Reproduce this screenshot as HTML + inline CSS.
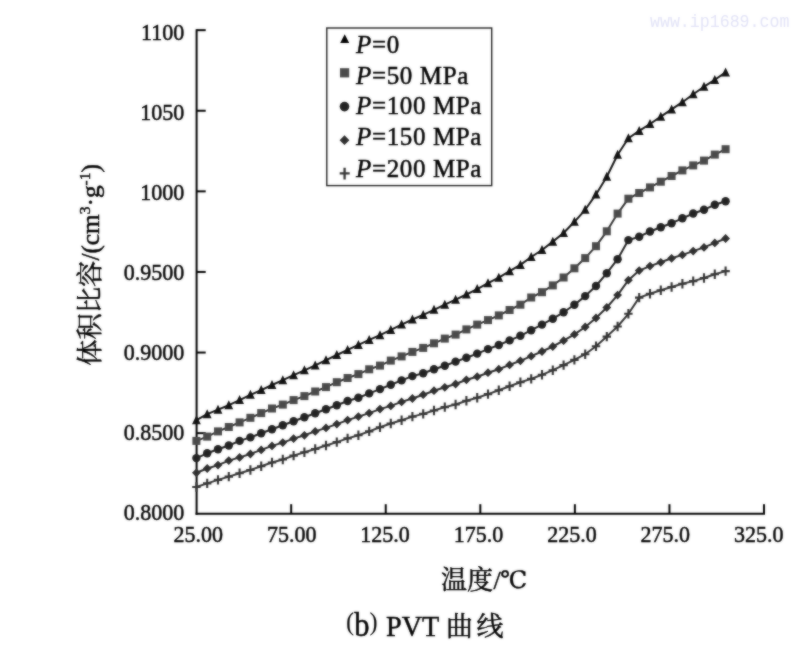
<!DOCTYPE html>
<html><head><meta charset="utf-8"><style>
html,body{margin:0;padding:0;background:#fff;}
body{width:800px;height:652px;overflow:hidden;}
svg{display:block;}
.num{font-family:"Liberation Serif",serif;font-size:22px;fill:#000;}
.leg{font-family:"Liberation Serif",serif;font-size:25px;fill:#000;letter-spacing:0.63px;}
.cjk{font-family:"Liberation Serif","Noto Serif CJK SC",serif;fill:#000;}
.wm{font-family:"Liberation Mono",monospace;font-size:16.6px;fill:#e2e3f7;}
</style></head><body>
<svg width="800" height="652" viewBox="0 0 800 652">
<defs><filter id="bl" x="0" y="0" width="100%" height="100%" color-interpolation-filters="sRGB"><feGaussianBlur in="SourceGraphic" stdDeviation="0.8" result="b"/><feComposite in="SourceGraphic" in2="b" operator="arithmetic" k1="0" k2="0.45" k3="0.55" k4="0"/></filter></defs>
<g filter="url(#bl)">
<rect width="800" height="652" fill="#fff"/>
<style>text{stroke:#000;stroke-width:0.45px;} text.wm{stroke:none;}</style>
<text transform="translate(650,26.6) scale(1,1.15)" class="wm">www.ip1689.com</text>
<line x1="196.6" y1="29.15" x2="196.6" y2="514.75" stroke="#000" stroke-width="2.0"/>
<line x1="195.6" y1="513.75" x2="765" y2="513.75" stroke="#000" stroke-width="2.0"/>
<line x1="196.6" y1="30.15" x2="205.7" y2="30.15" stroke="#000" stroke-width="2.0"/>
<line x1="196.6" y1="110.75" x2="205.7" y2="110.75" stroke="#000" stroke-width="2.0"/>
<line x1="196.6" y1="191.35" x2="205.7" y2="191.35" stroke="#000" stroke-width="2.0"/>
<line x1="196.6" y1="271.95" x2="205.7" y2="271.95" stroke="#000" stroke-width="2.0"/>
<line x1="196.6" y1="352.55" x2="205.7" y2="352.55" stroke="#000" stroke-width="2.0"/>
<line x1="196.6" y1="433.15" x2="205.7" y2="433.15" stroke="#000" stroke-width="2.0"/>
<line x1="291.17" y1="513.75" x2="291.17" y2="504.2" stroke="#000" stroke-width="2.0"/>
<line x1="385.74" y1="513.75" x2="385.74" y2="504.2" stroke="#000" stroke-width="2.0"/>
<line x1="480.31" y1="513.75" x2="480.31" y2="504.2" stroke="#000" stroke-width="2.0"/>
<line x1="574.88" y1="513.75" x2="574.88" y2="504.2" stroke="#000" stroke-width="2.0"/>
<line x1="669.45" y1="513.75" x2="669.45" y2="504.2" stroke="#000" stroke-width="2.0"/>
<line x1="764.02" y1="513.75" x2="764.02" y2="504.2" stroke="#000" stroke-width="2.0"/>
<text transform="translate(184.2,39.50) scale(1,1.05)" text-anchor="end" class="num">1100</text>
<text transform="translate(184.2,119.50) scale(1,1.05)" text-anchor="end" class="num">1050</text>
<text transform="translate(184.2,199.50) scale(1,1.05)" text-anchor="end" class="num">1000</text>
<text transform="translate(184.2,279.50) scale(1,1.05)" text-anchor="end" class="num">0.9500</text>
<text transform="translate(184.2,359.50) scale(1,1.05)" text-anchor="end" class="num">0.9000</text>
<text transform="translate(184.2,439.50) scale(1,1.05)" text-anchor="end" class="num">0.8500</text>
<text transform="translate(184.2,519.50) scale(1,1.05)" text-anchor="end" class="num">0.8000</text>
<text transform="translate(198.3,541.8) scale(1,1.05)" text-anchor="middle" class="num">25.00</text>
<text transform="translate(291.7,541.8) scale(1,1.05)" text-anchor="middle" class="num">75.00</text>
<text transform="translate(385.1,541.8) scale(1,1.05)" text-anchor="middle" class="num">125.0</text>
<text transform="translate(478.5,541.8) scale(1,1.05)" text-anchor="middle" class="num">175.0</text>
<text transform="translate(571.9,541.8) scale(1,1.05)" text-anchor="middle" class="num">225.0</text>
<text transform="translate(665.3,541.8) scale(1,1.05)" text-anchor="middle" class="num">275.0</text>
<text transform="translate(758.7,541.8) scale(1,1.05)" text-anchor="middle" class="num">325.0</text>
<polyline points="196.4,420.1 207.2,414.1 218.0,409.6 228.8,405.2 239.6,400.1 250.4,394.8 261.2,390.1 272.0,385.0 282.8,380.2 293.6,375.2 304.4,370.3 315.2,365.4 326.0,360.2 336.8,355.0 347.6,349.9 358.4,344.9 369.2,339.9 380.0,335.2 390.8,329.9 401.6,324.6 412.4,319.5 423.2,314.9 434.0,309.8 444.8,304.6 455.6,299.7 466.4,294.5 477.2,289.1 488.0,283.2 498.8,277.7 509.6,271.2 520.4,264.9 531.2,257.0 542.0,250.0 552.8,241.6 563.6,233.0 574.4,221.8 585.2,209.8 596.0,194.4 606.8,176.8 617.6,154.7 628.4,138.3 639.2,130.9 650.0,124.0 660.8,116.7 671.6,109.4 682.4,102.2 693.2,94.3 704.0,86.7 714.8,79.8 725.6,72.4" fill="none" stroke="#151515" stroke-width="2.0" stroke-linejoin="round"/>
<path d="M196.4,415.2L200.8,424.2L192.0,424.2Z" fill="#111"/>
<path d="M207.2,409.2L211.6,418.2L202.8,418.2Z" fill="#111"/>
<path d="M218.0,404.7L222.4,413.7L213.6,413.7Z" fill="#111"/>
<path d="M228.8,400.2L233.2,409.2L224.4,409.2Z" fill="#111"/>
<path d="M239.6,395.1L244.0,404.1L235.2,404.1Z" fill="#111"/>
<path d="M250.4,389.8L254.8,398.8L246.0,398.8Z" fill="#111"/>
<path d="M261.2,385.1L265.6,394.1L256.8,394.1Z" fill="#111"/>
<path d="M272.0,380.0L276.4,389.0L267.6,389.0Z" fill="#111"/>
<path d="M282.8,375.2L287.2,384.2L278.4,384.2Z" fill="#111"/>
<path d="M293.6,370.2L298.0,379.2L289.2,379.2Z" fill="#111"/>
<path d="M304.4,365.3L308.8,374.3L300.0,374.3Z" fill="#111"/>
<path d="M315.2,360.5L319.6,369.5L310.8,369.5Z" fill="#111"/>
<path d="M326.0,355.3L330.4,364.3L321.6,364.3Z" fill="#111"/>
<path d="M336.8,350.1L341.2,359.1L332.4,359.1Z" fill="#111"/>
<path d="M347.6,345.0L352.0,354.0L343.2,354.0Z" fill="#111"/>
<path d="M358.4,340.0L362.8,349.0L354.0,349.0Z" fill="#111"/>
<path d="M369.2,334.9L373.6,343.9L364.8,343.9Z" fill="#111"/>
<path d="M380.0,330.2L384.4,339.2L375.6,339.2Z" fill="#111"/>
<path d="M390.8,324.9L395.2,333.9L386.4,333.9Z" fill="#111"/>
<path d="M401.6,319.6L406.0,328.6L397.2,328.6Z" fill="#111"/>
<path d="M412.4,314.6L416.8,323.6L408.0,323.6Z" fill="#111"/>
<path d="M423.2,309.9L427.6,318.9L418.8,318.9Z" fill="#111"/>
<path d="M434.0,304.8L438.4,313.8L429.6,313.8Z" fill="#111"/>
<path d="M444.8,299.7L449.2,308.7L440.4,308.7Z" fill="#111"/>
<path d="M455.6,294.8L460.0,303.8L451.2,303.8Z" fill="#111"/>
<path d="M466.4,289.5L470.8,298.5L462.0,298.5Z" fill="#111"/>
<path d="M477.2,284.1L481.6,293.1L472.8,293.1Z" fill="#111"/>
<path d="M488.0,278.3L492.4,287.3L483.6,287.3Z" fill="#111"/>
<path d="M498.8,272.8L503.2,281.8L494.4,281.8Z" fill="#111"/>
<path d="M509.6,266.3L514.0,275.3L505.2,275.3Z" fill="#111"/>
<path d="M520.4,260.0L524.8,269.0L516.0,269.0Z" fill="#111"/>
<path d="M531.2,252.0L535.6,261.0L526.8,261.0Z" fill="#111"/>
<path d="M542.0,245.1L546.4,254.1L537.6,254.1Z" fill="#111"/>
<path d="M552.8,236.7L557.2,245.7L548.4,245.7Z" fill="#111"/>
<path d="M563.6,228.0L568.0,237.0L559.2,237.0Z" fill="#111"/>
<path d="M574.4,216.8L578.8,225.8L570.0,225.8Z" fill="#111"/>
<path d="M585.2,204.8L589.6,213.8L580.8,213.8Z" fill="#111"/>
<path d="M596.0,189.5L600.4,198.5L591.6,198.5Z" fill="#111"/>
<path d="M606.8,171.8L611.2,180.8L602.4,180.8Z" fill="#111"/>
<path d="M617.6,149.8L622.0,158.8L613.2,158.8Z" fill="#111"/>
<path d="M628.4,133.3L632.8,142.3L624.0,142.3Z" fill="#111"/>
<path d="M639.2,125.9L643.6,134.9L634.8,134.9Z" fill="#111"/>
<path d="M650.0,119.0L654.4,128.0L645.6,128.0Z" fill="#111"/>
<path d="M660.8,111.7L665.2,120.7L656.4,120.7Z" fill="#111"/>
<path d="M671.6,104.5L676.0,113.5L667.2,113.5Z" fill="#111"/>
<path d="M682.4,97.3L686.8,106.3L678.0,106.3Z" fill="#111"/>
<path d="M693.2,89.3L697.6,98.3L688.8,98.3Z" fill="#111"/>
<path d="M704.0,81.8L708.4,90.8L699.6,90.8Z" fill="#111"/>
<path d="M714.8,74.9L719.2,83.9L710.4,83.9Z" fill="#111"/>
<path d="M725.6,67.4L730.0,76.4L721.2,76.4Z" fill="#111"/>
<polyline points="196.4,440.9 207.2,436.6 218.0,431.4 228.8,427.0 239.6,422.4 250.4,417.8 261.2,413.1 272.0,408.5 282.8,404.6 293.6,400.1 304.4,396.1 315.2,391.5 326.0,387.1 336.8,382.2 347.6,378.0 358.4,374.1 369.2,369.3 380.0,365.6 390.8,360.6 401.6,356.4 412.4,351.9 423.2,347.9 434.0,343.3 444.8,338.6 455.6,334.6 466.4,329.4 477.2,324.6 488.0,320.1 498.8,315.4 509.6,310.0 520.4,304.7 531.2,297.5 542.0,292.2 552.8,285.4 563.6,277.5 574.4,268.3 585.2,258.1 596.0,246.2 606.8,231.3 617.6,213.6 628.4,198.7 639.2,193.0 650.0,187.4 660.8,181.7 671.6,176.0 682.4,170.4 693.2,165.4 704.0,160.6 714.8,154.6 725.6,149.2" fill="none" stroke="#333" stroke-width="2.0" stroke-linejoin="round"/>
<rect x="192.4" y="436.9" width="8.0" height="8.0" fill="#4a4a4a"/>
<rect x="203.2" y="432.6" width="8.0" height="8.0" fill="#4a4a4a"/>
<rect x="214.0" y="427.4" width="8.0" height="8.0" fill="#4a4a4a"/>
<rect x="224.8" y="423.0" width="8.0" height="8.0" fill="#4a4a4a"/>
<rect x="235.6" y="418.4" width="8.0" height="8.0" fill="#4a4a4a"/>
<rect x="246.4" y="413.8" width="8.0" height="8.0" fill="#4a4a4a"/>
<rect x="257.2" y="409.1" width="8.0" height="8.0" fill="#4a4a4a"/>
<rect x="268.0" y="404.5" width="8.0" height="8.0" fill="#4a4a4a"/>
<rect x="278.8" y="400.6" width="8.0" height="8.0" fill="#4a4a4a"/>
<rect x="289.6" y="396.1" width="8.0" height="8.0" fill="#4a4a4a"/>
<rect x="300.4" y="392.1" width="8.0" height="8.0" fill="#4a4a4a"/>
<rect x="311.2" y="387.5" width="8.0" height="8.0" fill="#4a4a4a"/>
<rect x="322.0" y="383.1" width="8.0" height="8.0" fill="#4a4a4a"/>
<rect x="332.8" y="378.2" width="8.0" height="8.0" fill="#4a4a4a"/>
<rect x="343.6" y="374.0" width="8.0" height="8.0" fill="#4a4a4a"/>
<rect x="354.4" y="370.1" width="8.0" height="8.0" fill="#4a4a4a"/>
<rect x="365.2" y="365.3" width="8.0" height="8.0" fill="#4a4a4a"/>
<rect x="376.0" y="361.6" width="8.0" height="8.0" fill="#4a4a4a"/>
<rect x="386.8" y="356.6" width="8.0" height="8.0" fill="#4a4a4a"/>
<rect x="397.6" y="352.4" width="8.0" height="8.0" fill="#4a4a4a"/>
<rect x="408.4" y="347.9" width="8.0" height="8.0" fill="#4a4a4a"/>
<rect x="419.2" y="343.9" width="8.0" height="8.0" fill="#4a4a4a"/>
<rect x="430.0" y="339.3" width="8.0" height="8.0" fill="#4a4a4a"/>
<rect x="440.8" y="334.6" width="8.0" height="8.0" fill="#4a4a4a"/>
<rect x="451.6" y="330.6" width="8.0" height="8.0" fill="#4a4a4a"/>
<rect x="462.4" y="325.4" width="8.0" height="8.0" fill="#4a4a4a"/>
<rect x="473.2" y="320.6" width="8.0" height="8.0" fill="#4a4a4a"/>
<rect x="484.0" y="316.1" width="8.0" height="8.0" fill="#4a4a4a"/>
<rect x="494.8" y="311.4" width="8.0" height="8.0" fill="#4a4a4a"/>
<rect x="505.6" y="306.0" width="8.0" height="8.0" fill="#4a4a4a"/>
<rect x="516.4" y="300.7" width="8.0" height="8.0" fill="#4a4a4a"/>
<rect x="527.2" y="293.5" width="8.0" height="8.0" fill="#4a4a4a"/>
<rect x="538.0" y="288.2" width="8.0" height="8.0" fill="#4a4a4a"/>
<rect x="548.8" y="281.4" width="8.0" height="8.0" fill="#4a4a4a"/>
<rect x="559.6" y="273.5" width="8.0" height="8.0" fill="#4a4a4a"/>
<rect x="570.4" y="264.3" width="8.0" height="8.0" fill="#4a4a4a"/>
<rect x="581.2" y="254.1" width="8.0" height="8.0" fill="#4a4a4a"/>
<rect x="592.0" y="242.2" width="8.0" height="8.0" fill="#4a4a4a"/>
<rect x="602.8" y="227.3" width="8.0" height="8.0" fill="#4a4a4a"/>
<rect x="613.6" y="209.6" width="8.0" height="8.0" fill="#4a4a4a"/>
<rect x="624.4" y="194.7" width="8.0" height="8.0" fill="#4a4a4a"/>
<rect x="635.2" y="189.0" width="8.0" height="8.0" fill="#4a4a4a"/>
<rect x="646.0" y="183.4" width="8.0" height="8.0" fill="#4a4a4a"/>
<rect x="656.8" y="177.7" width="8.0" height="8.0" fill="#4a4a4a"/>
<rect x="667.6" y="172.0" width="8.0" height="8.0" fill="#4a4a4a"/>
<rect x="678.4" y="166.4" width="8.0" height="8.0" fill="#4a4a4a"/>
<rect x="689.2" y="161.4" width="8.0" height="8.0" fill="#4a4a4a"/>
<rect x="700.0" y="156.6" width="8.0" height="8.0" fill="#4a4a4a"/>
<rect x="710.8" y="150.6" width="8.0" height="8.0" fill="#4a4a4a"/>
<rect x="721.6" y="145.2" width="8.0" height="8.0" fill="#4a4a4a"/>
<polyline points="196.4,458.1 207.2,453.3 218.0,449.3 228.8,445.5 239.6,440.9 250.4,437.4 261.2,433.2 272.0,429.2 282.8,425.3 293.6,421.3 304.4,417.2 315.2,413.3 326.0,409.2 336.8,405.2 347.6,401.0 358.4,397.8 369.2,393.4 380.0,389.1 390.8,384.8 401.6,380.4 412.4,376.1 423.2,373.2 434.0,369.3 444.8,365.7 455.6,361.6 466.4,357.8 477.2,353.6 488.0,349.1 498.8,345.0 509.6,340.4 520.4,335.8 531.2,330.2 542.0,324.6 552.8,318.7 563.6,312.3 574.4,304.7 585.2,296.1 596.0,286.0 606.8,273.2 617.6,259.2 628.4,240.1 639.2,236.7 650.0,231.5 660.8,227.3 671.6,223.2 682.4,218.3 693.2,213.5 704.0,209.7 714.8,204.8 725.6,201.2" fill="none" stroke="#222" stroke-width="2.0" stroke-linejoin="round"/>
<circle cx="196.4" cy="458.1" r="4.2" fill="#222"/>
<circle cx="207.2" cy="453.3" r="4.2" fill="#222"/>
<circle cx="218.0" cy="449.3" r="4.2" fill="#222"/>
<circle cx="228.8" cy="445.5" r="4.2" fill="#222"/>
<circle cx="239.6" cy="440.9" r="4.2" fill="#222"/>
<circle cx="250.4" cy="437.4" r="4.2" fill="#222"/>
<circle cx="261.2" cy="433.2" r="4.2" fill="#222"/>
<circle cx="272.0" cy="429.2" r="4.2" fill="#222"/>
<circle cx="282.8" cy="425.3" r="4.2" fill="#222"/>
<circle cx="293.6" cy="421.3" r="4.2" fill="#222"/>
<circle cx="304.4" cy="417.2" r="4.2" fill="#222"/>
<circle cx="315.2" cy="413.3" r="4.2" fill="#222"/>
<circle cx="326.0" cy="409.2" r="4.2" fill="#222"/>
<circle cx="336.8" cy="405.2" r="4.2" fill="#222"/>
<circle cx="347.6" cy="401.0" r="4.2" fill="#222"/>
<circle cx="358.4" cy="397.8" r="4.2" fill="#222"/>
<circle cx="369.2" cy="393.4" r="4.2" fill="#222"/>
<circle cx="380.0" cy="389.1" r="4.2" fill="#222"/>
<circle cx="390.8" cy="384.8" r="4.2" fill="#222"/>
<circle cx="401.6" cy="380.4" r="4.2" fill="#222"/>
<circle cx="412.4" cy="376.1" r="4.2" fill="#222"/>
<circle cx="423.2" cy="373.2" r="4.2" fill="#222"/>
<circle cx="434.0" cy="369.3" r="4.2" fill="#222"/>
<circle cx="444.8" cy="365.7" r="4.2" fill="#222"/>
<circle cx="455.6" cy="361.6" r="4.2" fill="#222"/>
<circle cx="466.4" cy="357.8" r="4.2" fill="#222"/>
<circle cx="477.2" cy="353.6" r="4.2" fill="#222"/>
<circle cx="488.0" cy="349.1" r="4.2" fill="#222"/>
<circle cx="498.8" cy="345.0" r="4.2" fill="#222"/>
<circle cx="509.6" cy="340.4" r="4.2" fill="#222"/>
<circle cx="520.4" cy="335.8" r="4.2" fill="#222"/>
<circle cx="531.2" cy="330.2" r="4.2" fill="#222"/>
<circle cx="542.0" cy="324.6" r="4.2" fill="#222"/>
<circle cx="552.8" cy="318.7" r="4.2" fill="#222"/>
<circle cx="563.6" cy="312.3" r="4.2" fill="#222"/>
<circle cx="574.4" cy="304.7" r="4.2" fill="#222"/>
<circle cx="585.2" cy="296.1" r="4.2" fill="#222"/>
<circle cx="596.0" cy="286.0" r="4.2" fill="#222"/>
<circle cx="606.8" cy="273.2" r="4.2" fill="#222"/>
<circle cx="617.6" cy="259.2" r="4.2" fill="#222"/>
<circle cx="628.4" cy="240.1" r="4.2" fill="#222"/>
<circle cx="639.2" cy="236.7" r="4.2" fill="#222"/>
<circle cx="650.0" cy="231.5" r="4.2" fill="#222"/>
<circle cx="660.8" cy="227.3" r="4.2" fill="#222"/>
<circle cx="671.6" cy="223.2" r="4.2" fill="#222"/>
<circle cx="682.4" cy="218.3" r="4.2" fill="#222"/>
<circle cx="693.2" cy="213.5" r="4.2" fill="#222"/>
<circle cx="704.0" cy="209.7" r="4.2" fill="#222"/>
<circle cx="714.8" cy="204.8" r="4.2" fill="#222"/>
<circle cx="725.6" cy="201.2" r="4.2" fill="#222"/>
<polyline points="196.4,472.8 207.2,468.5 218.0,465.1 228.8,460.6 239.6,457.4 250.4,454.0 261.2,449.9 272.0,445.9 282.8,442.6 293.6,438.6 304.4,435.3 315.2,431.4 326.0,427.9 336.8,424.1 347.6,420.1 358.4,416.6 369.2,413.1 380.0,409.1 390.8,405.9 401.6,401.9 412.4,398.5 423.2,394.7 434.0,390.7 444.8,387.3 455.6,384.0 466.4,379.8 477.2,376.7 488.0,372.7 498.8,369.2 509.6,364.9 520.4,360.8 531.2,356.2 542.0,351.5 552.8,346.5 563.6,340.7 574.4,334.4 585.2,327.0 596.0,318.0 606.8,307.5 617.6,295.1 628.4,280.2 639.2,270.6 650.0,266.1 660.8,262.3 671.6,258.3 682.4,254.9 693.2,251.1 704.0,247.4 714.8,242.9 725.6,238.5" fill="none" stroke="#2a2a2a" stroke-width="2.0" stroke-linejoin="round"/>
<path d="M196.4,468.4L200.8,472.8L196.4,477.2L192.0,472.8Z" fill="#2e2e2e"/>
<path d="M207.2,464.1L211.6,468.5L207.2,472.9L202.8,468.5Z" fill="#2e2e2e"/>
<path d="M218.0,460.7L222.4,465.1L218.0,469.5L213.6,465.1Z" fill="#2e2e2e"/>
<path d="M228.8,456.2L233.2,460.6L228.8,465.0L224.4,460.6Z" fill="#2e2e2e"/>
<path d="M239.6,453.0L244.0,457.4L239.6,461.8L235.2,457.4Z" fill="#2e2e2e"/>
<path d="M250.4,449.6L254.8,454.0L250.4,458.4L246.0,454.0Z" fill="#2e2e2e"/>
<path d="M261.2,445.5L265.6,449.9L261.2,454.3L256.8,449.9Z" fill="#2e2e2e"/>
<path d="M272.0,441.5L276.4,445.9L272.0,450.3L267.6,445.9Z" fill="#2e2e2e"/>
<path d="M282.8,438.2L287.2,442.6L282.8,447.0L278.4,442.6Z" fill="#2e2e2e"/>
<path d="M293.6,434.2L298.0,438.6L293.6,443.0L289.2,438.6Z" fill="#2e2e2e"/>
<path d="M304.4,430.9L308.8,435.3L304.4,439.7L300.0,435.3Z" fill="#2e2e2e"/>
<path d="M315.2,427.0L319.6,431.4L315.2,435.8L310.8,431.4Z" fill="#2e2e2e"/>
<path d="M326.0,423.5L330.4,427.9L326.0,432.3L321.6,427.9Z" fill="#2e2e2e"/>
<path d="M336.8,419.7L341.2,424.1L336.8,428.5L332.4,424.1Z" fill="#2e2e2e"/>
<path d="M347.6,415.7L352.0,420.1L347.6,424.5L343.2,420.1Z" fill="#2e2e2e"/>
<path d="M358.4,412.2L362.8,416.6L358.4,421.0L354.0,416.6Z" fill="#2e2e2e"/>
<path d="M369.2,408.7L373.6,413.1L369.2,417.5L364.8,413.1Z" fill="#2e2e2e"/>
<path d="M380.0,404.7L384.4,409.1L380.0,413.5L375.6,409.1Z" fill="#2e2e2e"/>
<path d="M390.8,401.5L395.2,405.9L390.8,410.3L386.4,405.9Z" fill="#2e2e2e"/>
<path d="M401.6,397.5L406.0,401.9L401.6,406.3L397.2,401.9Z" fill="#2e2e2e"/>
<path d="M412.4,394.1L416.8,398.5L412.4,402.9L408.0,398.5Z" fill="#2e2e2e"/>
<path d="M423.2,390.3L427.6,394.7L423.2,399.1L418.8,394.7Z" fill="#2e2e2e"/>
<path d="M434.0,386.3L438.4,390.7L434.0,395.1L429.6,390.7Z" fill="#2e2e2e"/>
<path d="M444.8,382.9L449.2,387.3L444.8,391.7L440.4,387.3Z" fill="#2e2e2e"/>
<path d="M455.6,379.6L460.0,384.0L455.6,388.4L451.2,384.0Z" fill="#2e2e2e"/>
<path d="M466.4,375.4L470.8,379.8L466.4,384.2L462.0,379.8Z" fill="#2e2e2e"/>
<path d="M477.2,372.3L481.6,376.7L477.2,381.1L472.8,376.7Z" fill="#2e2e2e"/>
<path d="M488.0,368.3L492.4,372.7L488.0,377.1L483.6,372.7Z" fill="#2e2e2e"/>
<path d="M498.8,364.8L503.2,369.2L498.8,373.6L494.4,369.2Z" fill="#2e2e2e"/>
<path d="M509.6,360.5L514.0,364.9L509.6,369.3L505.2,364.9Z" fill="#2e2e2e"/>
<path d="M520.4,356.4L524.8,360.8L520.4,365.2L516.0,360.8Z" fill="#2e2e2e"/>
<path d="M531.2,351.8L535.6,356.2L531.2,360.6L526.8,356.2Z" fill="#2e2e2e"/>
<path d="M542.0,347.1L546.4,351.5L542.0,355.9L537.6,351.5Z" fill="#2e2e2e"/>
<path d="M552.8,342.1L557.2,346.5L552.8,350.9L548.4,346.5Z" fill="#2e2e2e"/>
<path d="M563.6,336.3L568.0,340.7L563.6,345.1L559.2,340.7Z" fill="#2e2e2e"/>
<path d="M574.4,330.0L578.8,334.4L574.4,338.8L570.0,334.4Z" fill="#2e2e2e"/>
<path d="M585.2,322.6L589.6,327.0L585.2,331.4L580.8,327.0Z" fill="#2e2e2e"/>
<path d="M596.0,313.6L600.4,318.0L596.0,322.4L591.6,318.0Z" fill="#2e2e2e"/>
<path d="M606.8,303.1L611.2,307.5L606.8,311.9L602.4,307.5Z" fill="#2e2e2e"/>
<path d="M617.6,290.7L622.0,295.1L617.6,299.5L613.2,295.1Z" fill="#2e2e2e"/>
<path d="M628.4,275.8L632.8,280.2L628.4,284.6L624.0,280.2Z" fill="#2e2e2e"/>
<path d="M639.2,266.2L643.6,270.6L639.2,275.0L634.8,270.6Z" fill="#2e2e2e"/>
<path d="M650.0,261.7L654.4,266.1L650.0,270.5L645.6,266.1Z" fill="#2e2e2e"/>
<path d="M660.8,257.9L665.2,262.3L660.8,266.7L656.4,262.3Z" fill="#2e2e2e"/>
<path d="M671.6,253.9L676.0,258.3L671.6,262.7L667.2,258.3Z" fill="#2e2e2e"/>
<path d="M682.4,250.5L686.8,254.9L682.4,259.3L678.0,254.9Z" fill="#2e2e2e"/>
<path d="M693.2,246.7L697.6,251.1L693.2,255.5L688.8,251.1Z" fill="#2e2e2e"/>
<path d="M704.0,243.0L708.4,247.4L704.0,251.8L699.6,247.4Z" fill="#2e2e2e"/>
<path d="M714.8,238.5L719.2,242.9L714.8,247.3L710.4,242.9Z" fill="#2e2e2e"/>
<path d="M725.6,234.1L730.0,238.5L725.6,242.9L721.2,238.5Z" fill="#2e2e2e"/>
<polyline points="196.4,487.0 207.2,483.4 218.0,479.9 228.8,476.6 239.6,473.2 250.4,470.0 261.2,466.3 272.0,462.5 282.8,459.5 293.6,455.6 304.4,452.3 315.2,449.0 326.0,445.5 336.8,442.1 347.6,438.4 358.4,435.3 369.2,431.4 380.0,427.2 390.8,423.5 401.6,420.2 412.4,416.6 423.2,413.9 434.0,410.5 444.8,407.1 455.6,404.5 466.4,400.7 477.2,397.7 488.0,394.1 498.8,390.2 509.6,386.3 520.4,382.3 531.2,378.9 542.0,374.8 552.8,370.2 563.6,365.1 574.4,359.9 585.2,354.2 596.0,346.3 606.8,336.6 617.6,326.5 628.4,313.8 639.2,297.6 650.0,293.8 660.8,290.2 671.6,287.0 682.4,283.7 693.2,281.1 704.0,278.0 714.8,274.3 725.6,271.1" fill="none" stroke="#333" stroke-width="2.0" stroke-linejoin="round"/>
<path d="M192.2,487.0H200.6M196.4,482.3V491.7" stroke="#333" stroke-width="2.1" fill="none"/>
<path d="M203.0,483.4H211.4M207.2,478.7V488.1" stroke="#333" stroke-width="2.1" fill="none"/>
<path d="M213.8,479.9H222.2M218.0,475.2V484.6" stroke="#333" stroke-width="2.1" fill="none"/>
<path d="M224.6,476.6H233.0M228.8,471.9V481.3" stroke="#333" stroke-width="2.1" fill="none"/>
<path d="M235.4,473.2H243.8M239.6,468.5V477.9" stroke="#333" stroke-width="2.1" fill="none"/>
<path d="M246.2,470.0H254.6M250.4,465.3V474.7" stroke="#333" stroke-width="2.1" fill="none"/>
<path d="M257.0,466.3H265.4M261.2,461.6V471.0" stroke="#333" stroke-width="2.1" fill="none"/>
<path d="M267.8,462.5H276.2M272.0,457.8V467.2" stroke="#333" stroke-width="2.1" fill="none"/>
<path d="M278.6,459.5H287.0M282.8,454.8V464.2" stroke="#333" stroke-width="2.1" fill="none"/>
<path d="M289.4,455.6H297.8M293.6,450.9V460.3" stroke="#333" stroke-width="2.1" fill="none"/>
<path d="M300.2,452.3H308.6M304.4,447.6V457.0" stroke="#333" stroke-width="2.1" fill="none"/>
<path d="M311.0,449.0H319.4M315.2,444.3V453.7" stroke="#333" stroke-width="2.1" fill="none"/>
<path d="M321.8,445.5H330.2M326.0,440.8V450.2" stroke="#333" stroke-width="2.1" fill="none"/>
<path d="M332.6,442.1H341.0M336.8,437.4V446.8" stroke="#333" stroke-width="2.1" fill="none"/>
<path d="M343.4,438.4H351.8M347.6,433.7V443.1" stroke="#333" stroke-width="2.1" fill="none"/>
<path d="M354.2,435.3H362.6M358.4,430.6V440.0" stroke="#333" stroke-width="2.1" fill="none"/>
<path d="M365.0,431.4H373.4M369.2,426.7V436.1" stroke="#333" stroke-width="2.1" fill="none"/>
<path d="M375.8,427.2H384.2M380.0,422.5V431.9" stroke="#333" stroke-width="2.1" fill="none"/>
<path d="M386.6,423.5H395.0M390.8,418.8V428.2" stroke="#333" stroke-width="2.1" fill="none"/>
<path d="M397.4,420.2H405.8M401.6,415.5V424.9" stroke="#333" stroke-width="2.1" fill="none"/>
<path d="M408.2,416.6H416.6M412.4,411.9V421.3" stroke="#333" stroke-width="2.1" fill="none"/>
<path d="M419.0,413.9H427.4M423.2,409.2V418.6" stroke="#333" stroke-width="2.1" fill="none"/>
<path d="M429.8,410.5H438.2M434.0,405.8V415.2" stroke="#333" stroke-width="2.1" fill="none"/>
<path d="M440.6,407.1H449.0M444.8,402.4V411.8" stroke="#333" stroke-width="2.1" fill="none"/>
<path d="M451.4,404.5H459.8M455.6,399.8V409.2" stroke="#333" stroke-width="2.1" fill="none"/>
<path d="M462.2,400.7H470.6M466.4,396.0V405.4" stroke="#333" stroke-width="2.1" fill="none"/>
<path d="M473.0,397.7H481.4M477.2,393.0V402.4" stroke="#333" stroke-width="2.1" fill="none"/>
<path d="M483.8,394.1H492.2M488.0,389.4V398.8" stroke="#333" stroke-width="2.1" fill="none"/>
<path d="M494.6,390.2H503.0M498.8,385.5V394.9" stroke="#333" stroke-width="2.1" fill="none"/>
<path d="M505.4,386.3H513.8M509.6,381.6V391.0" stroke="#333" stroke-width="2.1" fill="none"/>
<path d="M516.2,382.3H524.6M520.4,377.6V387.0" stroke="#333" stroke-width="2.1" fill="none"/>
<path d="M527.0,378.9H535.4M531.2,374.2V383.6" stroke="#333" stroke-width="2.1" fill="none"/>
<path d="M537.8,374.8H546.2M542.0,370.1V379.5" stroke="#333" stroke-width="2.1" fill="none"/>
<path d="M548.6,370.2H557.0M552.8,365.5V374.9" stroke="#333" stroke-width="2.1" fill="none"/>
<path d="M559.4,365.1H567.8M563.6,360.4V369.8" stroke="#333" stroke-width="2.1" fill="none"/>
<path d="M570.2,359.9H578.6M574.4,355.2V364.6" stroke="#333" stroke-width="2.1" fill="none"/>
<path d="M581.0,354.2H589.4M585.2,349.5V358.9" stroke="#333" stroke-width="2.1" fill="none"/>
<path d="M591.8,346.3H600.2M596.0,341.6V351.0" stroke="#333" stroke-width="2.1" fill="none"/>
<path d="M602.6,336.6H611.0M606.8,331.9V341.3" stroke="#333" stroke-width="2.1" fill="none"/>
<path d="M613.4,326.5H621.8M617.6,321.8V331.2" stroke="#333" stroke-width="2.1" fill="none"/>
<path d="M624.2,313.8H632.6M628.4,309.1V318.5" stroke="#333" stroke-width="2.1" fill="none"/>
<path d="M635.0,297.6H643.4M639.2,292.9V302.3" stroke="#333" stroke-width="2.1" fill="none"/>
<path d="M645.8,293.8H654.2M650.0,289.1V298.5" stroke="#333" stroke-width="2.1" fill="none"/>
<path d="M656.6,290.2H665.0M660.8,285.5V294.9" stroke="#333" stroke-width="2.1" fill="none"/>
<path d="M667.4,287.0H675.8M671.6,282.3V291.7" stroke="#333" stroke-width="2.1" fill="none"/>
<path d="M678.2,283.7H686.6M682.4,279.0V288.4" stroke="#333" stroke-width="2.1" fill="none"/>
<path d="M689.0,281.1H697.4M693.2,276.4V285.8" stroke="#333" stroke-width="2.1" fill="none"/>
<path d="M699.8,278.0H708.2M704.0,273.3V282.7" stroke="#333" stroke-width="2.1" fill="none"/>
<path d="M710.6,274.3H719.0M714.8,269.6V279.0" stroke="#333" stroke-width="2.1" fill="none"/>
<path d="M721.4,271.1H729.8M725.6,266.4V275.8" stroke="#333" stroke-width="2.1" fill="none"/>
<rect x="326.8" y="28" width="164.9" height="157.6" fill="#fff" stroke="#222" stroke-width="1.4"/>
<path d="M344.7,34.3L349.2,42.9L340.2,42.9Z" fill="#000"/>
<rect x="340" y="68.2" width="9.2" height="9.2" fill="#4a4a4a"/>
<circle cx="344.5" cy="106.6" r="4.8" fill="#222"/>
<path d="M344.5,135.3L349.4,140.2L344.5,145.1L339.6,140.2Z" fill="#2e2e2e"/>
<path d="M339.7,173.3H349.7M344.6,167.8V179.6" stroke="#333" stroke-width="2.3" fill="none"/>
<text x="356" y="52.6" class="leg"><tspan font-style="italic">P</tspan>=0</text>
<text x="356" y="83.7" class="leg"><tspan font-style="italic">P</tspan>=50 MPa</text>
<text x="356" y="114.4" class="leg"><tspan font-style="italic">P</tspan>=100 MPa</text>
<text x="356" y="145.3" class="leg"><tspan font-style="italic">P</tspan>=150 MPa</text>
<text x="356" y="176.6" class="leg"><tspan font-style="italic">P</tspan>=200 MPa</text>
<text class="cjk" font-size="26.3" transform="translate(99.4,365.8) rotate(-90)">体积比容<tspan font-size="25.3">/(cm<tspan font-size="15.5" dy="-9.5">3</tspan><tspan dy="9.5">·g</tspan><tspan font-size="15.5" dy="-9.5">-1</tspan><tspan dy="9.5">)</tspan></tspan></text>
<text class="cjk" font-size="26" y="589"><tspan x="441">温度</tspan><tspan x="493.5" font-family="Liberation Serif, serif">/</tspan></text>
<text font-family="DejaVu Serif, Noto Serif CJK SC, serif" font-size="24" fill="#000" transform="translate(500.2,588)">℃</text>
<g transform="translate(0,636) scale(1,1.07)">
<text font-family="Liberation Serif, serif" font-size="23" fill="#000" y="-6" style="stroke-width:0.15px"><tspan x="346.3">(</tspan><tspan x="369.8">)</tspan></text>
<text font-family="Liberation Serif, serif" font-size="30.5" fill="#000" x="354.2">b</text>
<text font-family="Liberation Serif, serif" font-size="28.2" fill="#000" x="386">PVT</text>
</g>
<text class="cjk" font-size="27" y="636"><tspan x="446">曲</tspan><tspan x="476.5">线</tspan></text>
</g>
</svg>
</body></html>
